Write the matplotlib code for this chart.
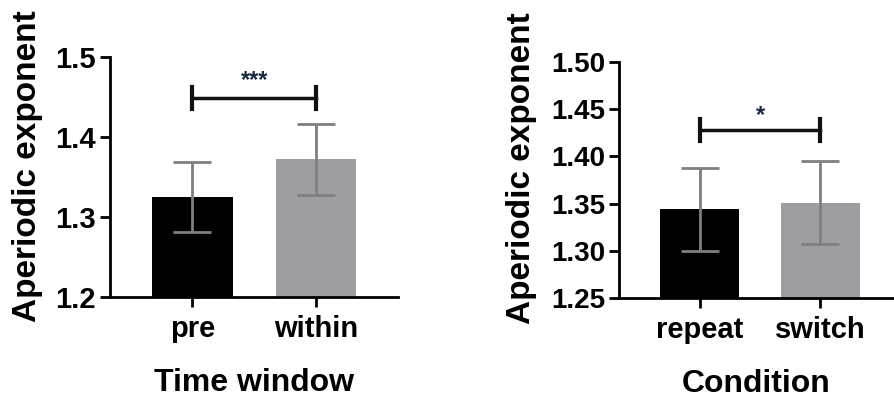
import matplotlib
matplotlib.use('Agg')
import matplotlib.pyplot as plt

# Dữ liệu
time_windows = ['pre', 'within']
time_means = [1.325, 1.372]
time_err = [0.044, 0.044]

conditions = ['repeat', 'switch']
cond_means = [1.344, 1.351]
cond_err = [0.044, 0.044]

plt.rcParams['font.family'] = ['Liberation Sans', 'DejaVu Sans']
plt.rcParams['font.weight'] = 'bold'

bar_colors = ['#000000', '#9e9ea2']
err_color = '#7f7f7f'


def draw_panel(ax, cats, means, errs, ylim, yticks, ytick_fmt, xlim, xlabel, stars,
               br_y, br_d, star_y, label_xy, tick_size):
    x = list(range(len(cats)))
    ax.bar(x, means, width=0.655, color=bar_colors, zorder=1)
    ax.errorbar(x, means, yerr=errs, fmt='none', ecolor=err_color, elinewidth=2,
                capsize=14, capthick=2, zorder=2)
    # vạch ý nghĩa thống kê
    ax.plot([x[0], x[1]], [br_y, br_y], color='#111111', lw=2.5, zorder=3)
    for xi in x[:2]:
        ax.plot([xi, xi], [br_y - br_d, br_y + br_d], color='#111111', lw=3, zorder=3)
    ax.text((x[0] + x[1]) / 2, star_y, stars, ha='center', va='center', fontsize=17,
            color='#1a2a44')

    ax.set_ylim(*ylim)
    ax.set_xlim(*xlim)
    ax.set_yticks(yticks)
    ax.set_yticklabels([ytick_fmt % v for v in yticks])
    ax.set_xticks(x)
    ax.set_xticklabels(cats)
    for s in ['top', 'right']:
        ax.spines[s].set_visible(False)
    for s in ['left', 'bottom']:
        ax.spines[s].set_linewidth(2)
    ax.tick_params(axis='both', width=2, length=7, pad=3)
    ax.tick_params(axis='x', pad=6)
    ax.tick_params(axis='y', labelsize=tick_size)
    ax.tick_params(axis='x', labelsize=21)
    ax.set_xlabel(xlabel, fontsize=23, fontweight='bold', labelpad=18)
    ax.set_ylabel('Aperiodic exponent', fontsize=24, fontweight='bold', va='center')
    ax.yaxis.set_label_coords(*label_xy)


fig = plt.figure(figsize=(8.95, 4), dpi=100)
ax1 = fig.add_axes([110 / 895, 1 - 297 / 400, 288 / 895, 240 / 400])
ax2 = fig.add_axes([619 / 895, 1 - 298 / 400, 275 / 895, 236 / 400])

draw_panel(ax1, time_windows, time_means, time_err, (1.2, 1.5), [1.2, 1.3, 1.4, 1.5], '%.1f',
           (-0.668, 1.664), 'Time window', '***', 1.449, 0.0135, 1.471, (-0.285, 0.546), 21)
draw_panel(ax2, conditions, cond_means, cond_err, (1.25, 1.5),
           [1.25, 1.30, 1.35, 1.40, 1.45, 1.50], '%.2f',
           (-0.669, 1.61), 'Condition', '*', 1.428, 0.012, 1.443, (-0.355, 0.551), 20)

fig.savefig('out.png', dpi=100)
